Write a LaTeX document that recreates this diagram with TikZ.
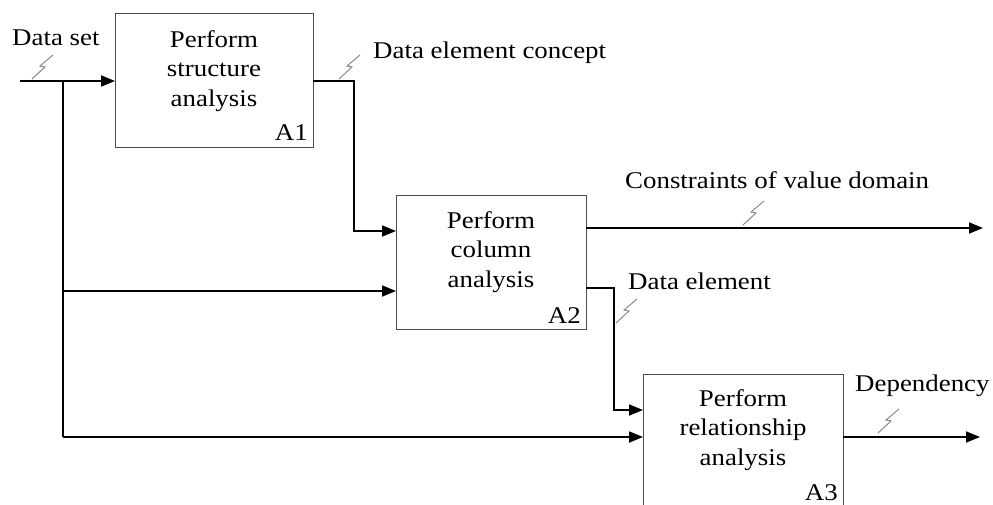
\documentclass[tikz,border=0pt]{standalone}
\usepackage{fontspec}
\setmainfont{Liberation Serif}
\usetikzlibrary{arrows.meta}
\begin{document}
\begin{tikzpicture}[x=1pt,y=-1pt,
  proc/.style={draw=black!70,line width=0.9pt,fill=white},
  flow/.style={line width=1.8pt,line join=miter},
  arr/.style={flow,-{Triangle[length=14pt,width=11pt]}},
  lbl/.style={font=\fontsize{24}{28}\selectfont,inner sep=0pt,xscale=1.12},
  ptext/.style={font=\fontsize{24}{29.5}\selectfont,align=center,inner sep=0pt,xscale=1.12},
  tunnel/.style={draw=black!50,line width=0.9pt}]
\useasboundingbox (0,0) rectangle (993,504);

% activity boxes
\node[proc,minimum width=198pt,minimum height=134pt,anchor=north west] (A1) at (115,13) {};
\node[proc,minimum width=190pt,minimum height=134pt,anchor=north west] (A2) at (396,195) {};
\node[proc,minimum width=200pt,minimum height=132pt,anchor=north west] (A3) at (643,374) {};

\node[ptext] (t1) at (214,71) {Perform\\structure\\analysis};
\node[ptext] (t2) at (491,252) {Perform\\column\\analysis};
\node[ptext] (t3) at (743,430) {Perform\\relationship\\analysis};
\node[lbl,anchor=south east] (n1) at (308,141) {A1};
\node[lbl,anchor=south east] (n2) at (581,324) {A2};
\node[lbl,anchor=south east] (n3) at (838,501) {A3};

% connection points
\coordinate (in) at (20,81);
\coordinate (split) at (63,81);
\coordinate (a1in) at (A1.west |- in);
\coordinate (a1out) at (313,81);
\coordinate (a2in1) at (396,231);
\coordinate (a2in2) at (396,291);
\coordinate (a2out1) at (586,228);
\coordinate (a2out2) at (586,288);
\coordinate (a3in1) at (643,410);
\coordinate (a3in2) at (643,437);
\coordinate (a3out) at (843,437);
\coordinate (end1) at (983,228);
\coordinate (end3) at (980,437);

% flows
\draw[arr] (in) -- (a1in);
\draw[flow] (split) -- (63,437);
\draw[arr] (63,291) -- (a2in2);
\draw[arr] (63,437) -- (a3in2);
\draw[arr] (a1out) -- (354,81) -- (354,231) -- (a2in1);
\draw[arr] (a2out1) -- (end1);
\draw[arr] (a2out2) -- (614,288) -- (614,410) -- (a3in1);
\draw[arr] (a3out) -- (end3);

% tunnel marks
\foreach \p in {(32,79),(339,79),(743,225),(616,323),(878,433)}{
  \draw[tunnel] \p ++(0,0) -- ++(13,-12) -- ++(-5,-1) -- ++(13,-11);
}

% arrow labels
\node[lbl,anchor=west] (l0) at (12,38) {Data set};
\node[lbl,anchor=west] (l1) at (373,53) {Data element concept};
\node[lbl,anchor=west] (l2) at (625,180) {Constraints of value domain};
\node[lbl,anchor=west] (l3) at (628,281) {Data element};
\node[lbl,anchor=west] (l4) at (855,386) {Dependency};
\end{tikzpicture}
\end{document}
